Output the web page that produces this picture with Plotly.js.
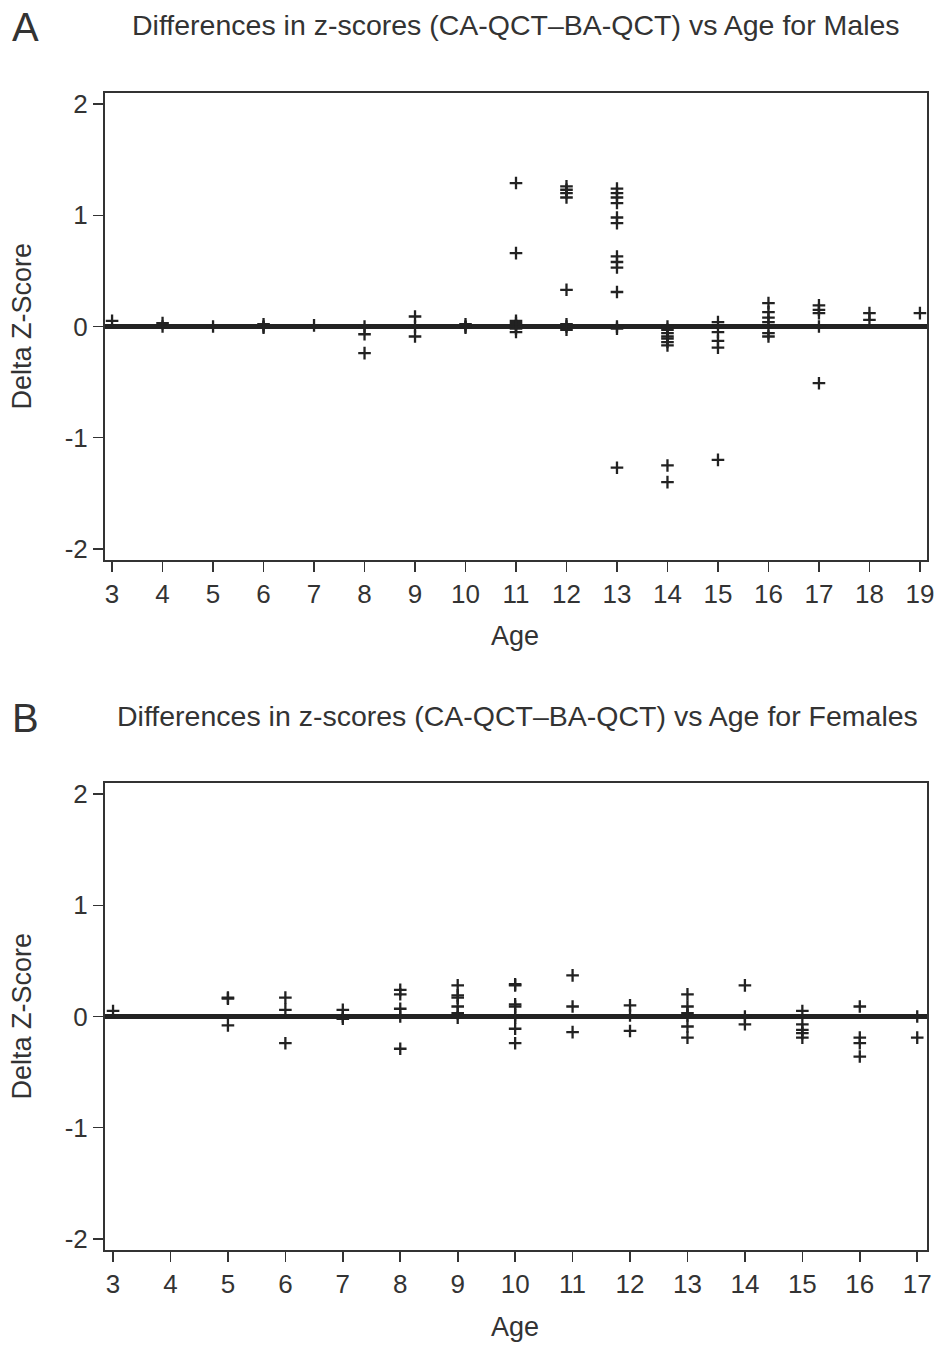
<!DOCTYPE html>
<html>
<head>
<meta charset="utf-8">
<script src="https://cdn.plot.ly/plotly-3.0.1.min.js"></script>
<style>
html,body{margin:0;padding:0;background:#fff;}
#chart{width:944px;height:1345px;}
</style>
</head>
<body>
<div id="chart"></div>
<script>
// Panel A: males
const maleAge = [
  3,
  4,4,
  5,
  6,6,6,
  7,
  8,8,8,
  9,9,9,
  10,10,10,
  11,11,11,11,11,11,11,11,
  12,12,12,12,12,12,12,12,
  13,13,13,13,13,13,13,13,13,13,13,13,13,
  14,14,14,14,14,14,14,14,14,
  15,15,15,15,15,
  16,16,16,16,16,16,
  17,17,17,17,17,
  18,18,
  19
];
const maleDelta = [
  0.05,
  0.03,0.0,
  0.0,
  0.02,0.0,-0.01,
  0.01,
  0.0,-0.07,-0.24,
  0.09,0.0,-0.09,
  0.02,0.0,-0.01,
  1.29,0.66,0.05,0.03,0.01,0.0,-0.02,-0.05,
  1.26,1.23,1.20,1.16,0.33,0.02,0.0,-0.03,
  1.24,1.20,1.16,1.11,0.98,0.93,0.63,0.58,0.53,0.31,0.0,-0.02,-1.27,
  0.0,-0.03,-0.06,-0.09,-0.11,-0.14,-0.17,-1.25,-1.40,
  0.04,-0.05,-0.13,-0.19,-1.20,
  0.21,0.13,0.08,0.04,-0.06,-0.09,
  0.19,0.15,0.12,0.0,-0.51,
  0.12,0.06,
  0.12
];
// Panel B: females
const femaleAge = [
  3,
  5,5,5,
  6,6,6,
  7,7,7,
  8,8,8,8,8,
  9,9,9,9,9,9,
  10,10,10,10,10,10,10,10,
  11,11,11,
  12,12,12,
  13,13,13,13,13,13,
  14,14,14,
  15,15,15,15,15,
  16,16,16,16,
  17,17
];
const femaleDelta = [
  0.05,
  0.17,0.16,-0.08,
  0.17,0.06,-0.24,
  0.06,0.0,-0.02,
  0.24,0.20,0.07,0.0,-0.29,
  0.28,0.19,0.17,0.09,0.03,-0.01,
  0.29,0.28,0.11,0.09,0.01,-0.01,-0.11,-0.24,
  0.37,0.09,-0.14,
  0.10,0.01,-0.13,
  0.20,0.09,0.03,0.01,-0.09,-0.19,
  0.28,0.0,-0.07,
  0.05,-0.07,-0.12,-0.15,-0.19,
  0.09,-0.19,-0.24,-0.36,
  0.0,-0.19
];
const yTickVals = [-2,-1,0,1,2];
const yTickText = ["-2","-1","0","1","2"];
const maleAgeTicks = [3,4,5,6,7,8,9,10,11,12,13,14,15,16,17,18,19];
const femaleAgeTicks = [3,4,5,6,7,8,9,10,11,12,13,14,15,16,17];

const titleA = "Differences in z-scores (CA-QCT\u2013BA-QCT) vs Age for Males";
const titleB = "Differences in z-scores (CA-QCT\u2013BA-QCT) vs Age for Females";
const xTitle = "Age";
const yTitle = "Delta Z-Score";

const FONT = 'Liberation Sans, Arial, sans-serif';
const ink = '#222222';
const txt = '#333333';
const marker = {symbol:'cross-thin-open', size:9, color:ink, line:{color:ink, width:2.3}};

const traces = [
  {x:maleAge, y:maleDelta, type:'scatter', mode:'markers', marker:marker, xaxis:'x', yaxis:'y', showlegend:false, hoverinfo:'x+y'},
  {x:femaleAge, y:femaleDelta, type:'scatter', mode:'markers', marker:marker, xaxis:'x2', yaxis:'y2', showlegend:false, hoverinfo:'x+y'}
];

const baseAxis = {
  showgrid:false, showline:true, mirror:true, linecolor:'#333', linewidth:2,
  ticks:'outside', ticklen:10, tickwidth:1.6, tickcolor:'#333',
  tickfont:{family:FONT, size:26, color:txt},
  zeroline:false, fixedrange:true
};
const yAxisBase = Object.assign({}, baseAxis, {
  tickmode:'array', tickvals:yTickVals, ticktext:yTickText,
  range:[-2.1,2.1], zeroline:true, zerolinecolor:ink, zerolinewidth:4.5
});

const domA = [0.5964, 1];
const domB = [0, 0.4036];

function ann(text, x, y, xs, ys, size, extra) {
  return Object.assign({text:text, xref:'paper', yref:'paper', x:x, y:y, xshift:xs, yshift:ys,
    showarrow:false, xanchor:'center', yanchor:'middle', font:{family:FONT, size:size, color:txt}}, extra||{});
}

const layout = {
  width:944, height:1345,
  margin:{l:105, r:17, t:93, b:95},
  paper_bgcolor:'#fff', plot_bgcolor:'#fff',
  font:{family:FONT, color:txt},
  xaxis: Object.assign({}, baseAxis, {domain:[0,1], anchor:'y', range:[2.86,19.14], tickmode:'array', tickvals:maleAgeTicks}),
  yaxis: Object.assign({}, yAxisBase, {domain:domA, anchor:'x'}),
  xaxis2: Object.assign({}, baseAxis, {domain:[0,1], anchor:'y2', range:[2.86,17.17], tickmode:'array', tickvals:femaleAgeTicks}),
  yaxis2: Object.assign({}, yAxisBase, {domain:domB, anchor:'x2'}),
  annotations:[
    ann(titleA, 0.5, domA[1], 0, 68, 28.5),
    ann(titleB, 0.5, domB[1], 1, 67, 28.5),
    ann('A', 0, domA[1], -80, 66, 40),
    ann('B', 0, domB[1], -80, 65, 40),
    ann(xTitle, 0.5, domA[0], -1, -76, 27),
    ann(xTitle, 0.5, domB[0], -1, -77, 27),
    ann(yTitle, 0, (domA[0]+domA[1])/2, -83, 0, 27, {textangle:-90}),
    ann(yTitle, 0, (domB[0]+domB[1])/2, -83, 0, 27, {textangle:-90})
  ]
};

Plotly.newPlot('chart', traces, layout, {staticPlot:true, displayModeBar:false});
</script>
</body>
</html>
